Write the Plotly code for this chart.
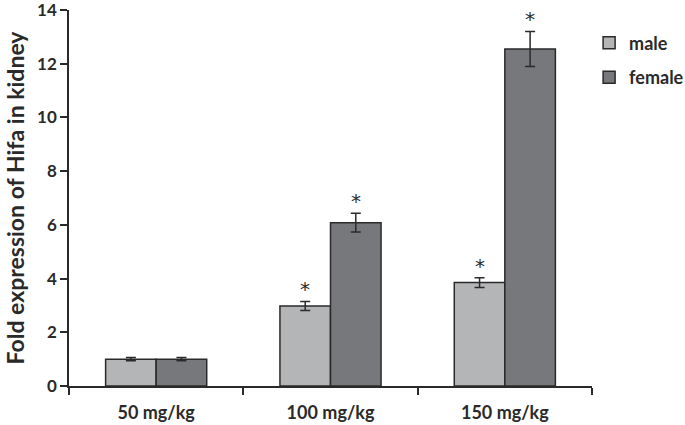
import plotly.graph_objects as go

categories = ["50 mg/kg", "100 mg/kg", "150 mg/kg"]
male = [1.0, 2.98, 3.85]
male_err = [0.06, 0.17, 0.18]
female = [1.0, 6.08, 12.55]
female_err = [0.06, 0.35, 0.65]
male_sig = ["", "*", "*"]
female_sig = ["", "*", "*"]
y_ticks = [0, 2, 4, 6, 8, 10, 12, 14]

font_family = "Lato, Open Sans, sans-serif"
c_male = "#b4b5b7"
c_female = "#77787b"
edge = "#2a2a2a"

fig = go.Figure()
fig.add_trace(go.Bar(
    name="male", x=categories, y=male, legendgroup="male",
    marker=dict(color=c_male, line=dict(color=edge, width=1.5)),
    error_y=dict(type="data", array=male_err, color=edge, thickness=1.5, width=5),
))
fig.add_trace(go.Bar(
    name="female", x=categories, y=female, legendgroup="female",
    marker=dict(color=c_female, line=dict(color=edge, width=1.5)),
    error_y=dict(type="data", array=female_err, color=edge, thickness=1.5, width=5),
))

for i, cat in enumerate(categories):
    for vals, errs, sig, off in ((male, male_err, male_sig, -0.145), (female, female_err, female_sig, 0.145)):
        if sig[i]:
            fig.add_annotation(
                x=i + off, y=vals[i] + errs[i], text=sig[i], showarrow=False,
                yanchor="bottom", yshift=-2, xref="x", yref="y",
                font=dict(family="DejaVu Sans, sans-serif", size=20, color="#2a2a2a"),
            )

fig.update_layout(
    width=685, height=425,
    margin=dict(l=69, r=93, t=10, b=39, autoexpand=False),
    paper_bgcolor="white", plot_bgcolor="white",
    barmode="group", bargap=0.42, bargroupgap=0,
    font=dict(family=font_family, color="#2a2a2a"),
    showlegend=True,
    legend=dict(xref="container", yref="container", x=0.86, y=0.942,
                xanchor="left", yanchor="top",
                font=dict(family=font_family, size=18, color="#2a2a2a", weight="bold"),
                tracegroupgap=8, itemwidth=30, bgcolor="rgba(0,0,0,0)"),
    xaxis=dict(
        type="category", showline=True, linecolor=edge, linewidth=1.5,
        ticks="outside", tickson="boundaries", ticklen=7, tickcolor=edge, tickwidth=1.5,
        tickfont=dict(family=font_family, size=18, color="#2a2a2a", weight="bold"),
        ticklabelstandoff=10, automargin=False,
        showgrid=False, zeroline=False,
    ),
    yaxis=dict(
        range=[0, 14], tickmode="array", tickvals=y_ticks, ticktext=[str(v) for v in y_ticks],
        ticklabeloverflow="allow", automargin=False,
        showline=True, linecolor=edge, linewidth=1.5,
        ticks="outside", ticklen=7, tickcolor=edge, tickwidth=1.5,
        tickfont=dict(family=font_family, size=17, color="#2a2a2a", weight="bold"),
        showgrid=False, zeroline=False,
        title=dict(text="Fold expression of Hifa in kidney", standoff=6,
                   font=dict(family=font_family, size=23, color="#2a2a2a", weight="bold")),
    ),
)

fig.write_html("out.html", config={"displayModeBar": False},
               post_script="document.body.style.margin='0';document.body.style.padding='0';")
